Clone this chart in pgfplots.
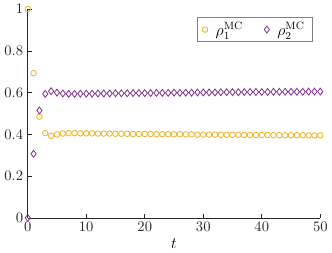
\documentclass[border=0pt]{standalone}
\usepackage{pgfplots}
\pgfplotsset{compat=1.18}
\definecolor{morange}{rgb}{0.929,0.694,0.125}
\definecolor{mpurple}{rgb}{0.494,0.184,0.557}
\definecolor{axgray}{rgb}{0.15,0.15,0.15}
\begin{document}
\begin{tikzpicture}
\begin{axis}[
  scale only axis,
  width=220pt, height=157pt,
  xmin=0, xmax=50, ymin=0, ymax=1,
  axis x line*=bottom, axis y line*=left,
  axis line style={axgray, line width=0.5pt},
  tick style={axgray, line width=0.5pt},
  tick align=inside,
  major tick length=3pt,
  xtick={0,10,...,50},
  ytick={0,0.2,0.4,0.6,0.8,1},
  yticklabel style={/pgf/number format/fixed},
  ticklabel style={text=axgray, font=\fontsize{11}{13}\selectfont},
  xlabel={$t$},
  xlabel style={font=\large, yshift=2pt},
  legend columns=2,
  legend style={at={(rel axis cs:0.975,0.962)}, anchor=north east, draw=gray, line width=0.5pt, font=\fontsize{11.5}{13}\selectfont,
    inner xsep=4pt, inner ysep=1.5pt,
    /tikz/every odd column/.append style={column sep=4pt},
    /tikz/every even column/.append style={column sep=14pt}},
  legend cell align=left,
]
\addplot[only marks, mark=o, mark size=2.1pt, color=morange, line width=0.6pt] table {
t y
0 1.000
1 0.693
2 0.485
3 0.406
4 0.393
5 0.400
6 0.404
7 0.406
8 0.406
9 0.405
10 0.405
11 0.405
12 0.404
13 0.404
14 0.404
15 0.403
16 0.403
17 0.403
18 0.402
19 0.402
20 0.402
21 0.402
22 0.401
23 0.401
24 0.401
25 0.400
26 0.401
27 0.400
28 0.400
29 0.399
30 0.399
31 0.399
32 0.399
33 0.398
34 0.398
35 0.398
36 0.398
37 0.397
38 0.397
39 0.397
40 0.397
41 0.397
42 0.396
43 0.396
44 0.396
45 0.396
46 0.396
47 0.396
48 0.395
49 0.395
50 0.395
};
\addlegendentry{$\rho_1^{\mathrm{MC}}$}
\addplot[only marks, mark=diamond, mark size=2.6pt, color=mpurple, line width=0.6pt] table {
t y
0 0.000
1 0.307
2 0.515
3 0.594
4 0.607
5 0.600
6 0.596
7 0.594
8 0.594
9 0.595
10 0.595
11 0.595
12 0.596
13 0.596
14 0.596
15 0.597
16 0.597
17 0.597
18 0.598
19 0.598
20 0.598
21 0.598
22 0.599
23 0.599
24 0.599
25 0.600
26 0.599
27 0.600
28 0.600
29 0.601
30 0.601
31 0.601
32 0.601
33 0.602
34 0.602
35 0.602
36 0.602
37 0.603
38 0.603
39 0.603
40 0.603
41 0.603
42 0.604
43 0.604
44 0.604
45 0.604
46 0.604
47 0.604
48 0.605
49 0.605
50 0.605
};
\addlegendentry{$\rho_2^{\mathrm{MC}}$}
\end{axis}
\end{tikzpicture}
\end{document}
